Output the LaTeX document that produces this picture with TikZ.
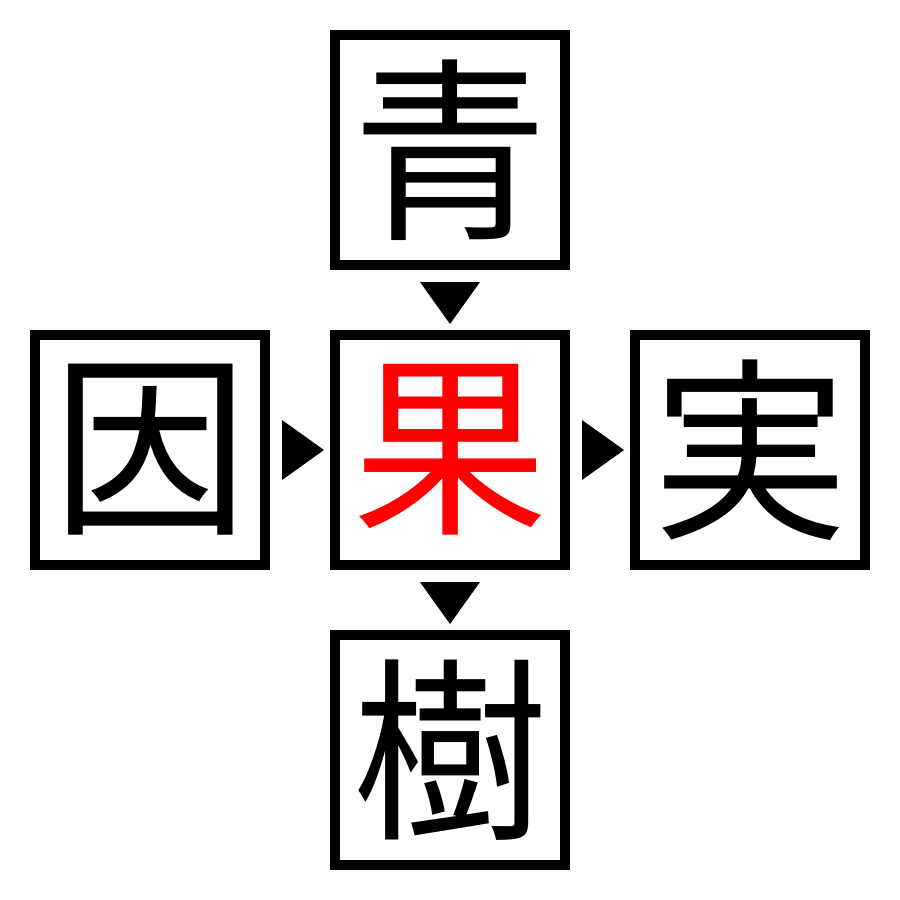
\documentclass[tikz,border=0pt]{standalone}
\usepackage{fontspec}
\newfontfamily\cjk{Noto Sans CJK JP}
\usetikzlibrary{calc}
\tikzset{
  kbox/.style={draw=black,line width=10pt,minimum size=230pt,inner sep=0pt,
    font=\cjk\fontsize{196}{196}\selectfont},
  arrowtri/.style={fill=black}
}
\begin{document}
\begin{tikzpicture}[x=1pt,y=-1pt]
\useasboundingbox (0,0) rectangle (900,900);
\node[kbox] (top) at (450,150) {青};
\node[kbox] (left) at (150,450) {因};
\node[kbox,text={rgb,255:red,255;green,0;blue,0}] (mid) at (450,450) {果};
\node[kbox] (right) at (750,450) {実};
\node[kbox] (bottom) at (450,750) {樹};
% down triangles
\fill[arrowtri] ($(top.south)+(-30,12)$) -- ($(top.south)+(30,12)$) -- ($(top.south)+(0,54)$) -- cycle;
\fill[arrowtri] ($(mid.south)+(-30,12)$) -- ($(mid.south)+(30,12)$) -- ($(mid.south)+(0,54)$) -- cycle;
% right triangles
\fill[arrowtri] ($(left.east)+(12,-30)$) -- ($(left.east)+(12,30)$) -- ($(left.east)+(54,0)$) -- cycle;
\fill[arrowtri] ($(mid.east)+(12,-30)$) -- ($(mid.east)+(12,30)$) -- ($(mid.east)+(54,0)$) -- cycle;
\end{tikzpicture}
\end{document}
